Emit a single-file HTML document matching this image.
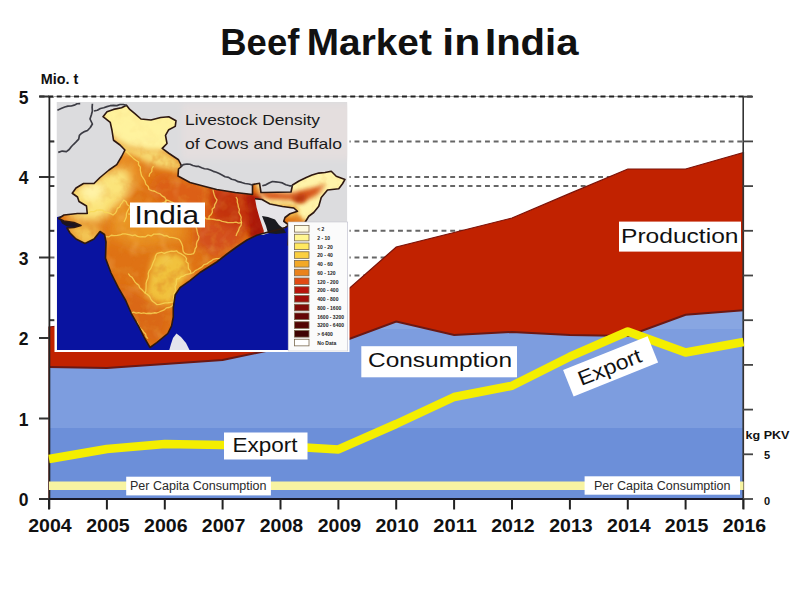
<!DOCTYPE html>
<html><head><meta charset="utf-8"><style>
html,body{margin:0;padding:0;background:#fff;width:800px;height:600px;overflow:hidden}
svg{display:block}
</style></head><body>
<svg width="800" height="600" viewBox="0 0 800 600">
<line x1="50" y1="141.4" x2="743" y2="141.4" stroke="#666" stroke-width="2" stroke-dasharray="4.9 3.8"/>
<line x1="50" y1="177.0" x2="743" y2="177.0" stroke="#666" stroke-width="2" stroke-dasharray="4.9 3.8"/>
<line x1="50" y1="186.1" x2="743" y2="186.1" stroke="#666" stroke-width="2" stroke-dasharray="4.9 3.8"/>
<line x1="50" y1="230.8" x2="743" y2="230.8" stroke="#666" stroke-width="2" stroke-dasharray="4.9 3.8"/>
<line x1="50" y1="257.5" x2="743" y2="257.5" stroke="#666" stroke-width="2" stroke-dasharray="4.9 3.8"/>
<line x1="50" y1="275.5" x2="743" y2="275.5" stroke="#666" stroke-width="2" stroke-dasharray="4.9 3.8"/>
<line x1="50" y1="320.2" x2="743" y2="320.2" stroke="#666" stroke-width="2" stroke-dasharray="4.9 3.8"/>
<line x1="50" y1="338.0" x2="743" y2="338.0" stroke="#666" stroke-width="2" stroke-dasharray="4.9 3.8"/>
<line x1="50" y1="364.9" x2="743" y2="364.9" stroke="#666" stroke-width="2" stroke-dasharray="4.9 3.8"/>
<line x1="50" y1="409.6" x2="743" y2="409.6" stroke="#666" stroke-width="2" stroke-dasharray="4.9 3.8"/>
<line x1="50" y1="418.5" x2="743" y2="418.5" stroke="#666" stroke-width="2" stroke-dasharray="4.9 3.8"/>
<line x1="50" y1="454.3" x2="743" y2="454.3" stroke="#666" stroke-width="2" stroke-dasharray="4.9 3.8"/>
<line x1="49" y1="454.3" x2="54" y2="454.3" stroke="#333" stroke-width="1.6"/>
<line x1="49" y1="409.6" x2="54" y2="409.6" stroke="#333" stroke-width="1.6"/>
<line x1="49" y1="364.9" x2="54" y2="364.9" stroke="#333" stroke-width="1.6"/>
<line x1="49" y1="320.2" x2="54" y2="320.2" stroke="#333" stroke-width="1.6"/>
<line x1="49" y1="275.5" x2="54" y2="275.5" stroke="#333" stroke-width="1.6"/>
<line x1="49" y1="230.8" x2="54" y2="230.8" stroke="#333" stroke-width="1.6"/>
<line x1="49" y1="186.1" x2="54" y2="186.1" stroke="#333" stroke-width="1.6"/>
<line x1="49" y1="141.4" x2="54" y2="141.4" stroke="#333" stroke-width="1.6"/>
<line x1="49" y1="96.7" x2="54" y2="96.7" stroke="#333" stroke-width="1.6"/>
<polygon points="49.0,327.0 106.9,320.0 164.8,314.0 222.6,308.0 280.5,303.0 338.4,298.0 396.2,247.0 454.1,232.5 512.0,218.0 569.9,193.4 627.8,169.0 685.6,169.0 743.5,152.5 743.5,499 49.0,499" fill="#c12200" stroke="#7a1208" stroke-width="1.2"/>
<clipPath id="cc"><polygon points="49.0,367.0 106.9,368.0 164.8,364.0 222.6,360.0 280.5,348.0 338.4,343.0 396.2,321.5 454.1,335.0 512.0,332.0 569.9,335.0 627.8,336.0 685.6,314.7 743.5,310.2 743.5,499 49.0,499"/></clipPath>
<g clip-path="url(#cc)">
<rect x="49" y="280" width="696" height="50" fill="#88a6e2"/>
<rect x="49" y="329" width="696" height="100" fill="#7d9ddf"/>
<rect x="49" y="428" width="696" height="72" fill="#6c8fd9"/>
</g>
<polyline points="49.0,367.0 106.9,368.0 164.8,364.0 222.6,360.0 280.5,348.0 338.4,343.0 396.2,321.5 454.1,335.0 512.0,332.0 569.9,335.0 627.8,336.0 685.6,314.7 743.5,310.2" fill="none" stroke="#6a1814" stroke-width="2"/>
<line x1="49.4" y1="96" x2="49.4" y2="509" stroke="#222" stroke-width="1.8"/>
<line x1="743.2" y1="96" x2="743.2" y2="509" stroke="#333" stroke-width="1.6"/>
<line x1="39" y1="96.5" x2="753" y2="96.5" stroke="#aaa" stroke-width="1"/>
<line x1="39.5" y1="96.5" x2="753" y2="96.5" stroke="#222" stroke-width="2.2" stroke-dasharray="5 3.63"/>
<line x1="49" y1="499" x2="744" y2="499" stroke="#1a1a2a" stroke-width="2.2"/>
<line x1="39" y1="499.0" x2="49" y2="499.0" stroke="#333" stroke-width="2"/>
<line x1="39" y1="418.5" x2="49" y2="418.5" stroke="#333" stroke-width="2"/>
<line x1="39" y1="338.0" x2="49" y2="338.0" stroke="#333" stroke-width="2"/>
<line x1="39" y1="257.5" x2="49" y2="257.5" stroke="#333" stroke-width="2"/>
<line x1="39" y1="177.0" x2="49" y2="177.0" stroke="#333" stroke-width="2"/>
<line x1="39" y1="96.5" x2="49" y2="96.5" stroke="#333" stroke-width="2"/>
<line x1="743" y1="454.3" x2="753" y2="454.3" stroke="#444" stroke-width="1.8"/>
<line x1="743" y1="409.6" x2="753" y2="409.6" stroke="#444" stroke-width="1.8"/>
<line x1="743" y1="364.9" x2="753" y2="364.9" stroke="#444" stroke-width="1.8"/>
<line x1="743" y1="320.2" x2="753" y2="320.2" stroke="#444" stroke-width="1.8"/>
<line x1="743" y1="275.5" x2="753" y2="275.5" stroke="#444" stroke-width="1.8"/>
<line x1="743" y1="230.8" x2="753" y2="230.8" stroke="#444" stroke-width="1.8"/>
<line x1="743" y1="186.1" x2="753" y2="186.1" stroke="#444" stroke-width="1.8"/>
<line x1="743" y1="141.4" x2="753" y2="141.4" stroke="#444" stroke-width="1.8"/>
<line x1="743" y1="96.7" x2="753" y2="96.7" stroke="#444" stroke-width="1.8"/>
<line x1="743" y1="499" x2="753" y2="499" stroke="#444" stroke-width="1.8"/>
<line x1="49.0" y1="499" x2="49.0" y2="509.5" stroke="#222" stroke-width="2"/>
<line x1="106.9" y1="499" x2="106.9" y2="509.5" stroke="#222" stroke-width="2"/>
<line x1="164.8" y1="499" x2="164.8" y2="509.5" stroke="#222" stroke-width="2"/>
<line x1="222.6" y1="499" x2="222.6" y2="509.5" stroke="#222" stroke-width="2"/>
<line x1="280.5" y1="499" x2="280.5" y2="509.5" stroke="#222" stroke-width="2"/>
<line x1="338.4" y1="499" x2="338.4" y2="509.5" stroke="#222" stroke-width="2"/>
<line x1="396.2" y1="499" x2="396.2" y2="509.5" stroke="#222" stroke-width="2"/>
<line x1="454.1" y1="499" x2="454.1" y2="509.5" stroke="#222" stroke-width="2"/>
<line x1="512.0" y1="499" x2="512.0" y2="509.5" stroke="#222" stroke-width="2"/>
<line x1="569.9" y1="499" x2="569.9" y2="509.5" stroke="#222" stroke-width="2"/>
<line x1="627.8" y1="499" x2="627.8" y2="509.5" stroke="#222" stroke-width="2"/>
<line x1="685.6" y1="499" x2="685.6" y2="509.5" stroke="#222" stroke-width="2"/>
<line x1="743.5" y1="499" x2="743.5" y2="509.5" stroke="#222" stroke-width="2"/>
<defs>
<clipPath id="mapclip"><rect x="56.5" y="102" width="290.8" height="248"/></clipPath>
<clipPath id="indclip"><polygon points="103,116.7 107,111.8 113.5,109.4 121.6,107.75 126.5,105.3 129.75,109.4 134.6,113.4 141,119 151,120 160.6,117.5 168.75,116.7 176,120.75 175.25,126.4 168.75,129.7 165.5,135.4 167,143.5 162.25,148.4 168.75,153.25 178.5,159.75 181.75,166.25 178.5,169 178,176 190,182.5 205,186.5 216.7,189.5 235.3,192.5 252.5,194.5 252.5,184.6 259.5,183.2 261,192.5 263.75,192.5 291,192 292.5,185 299,181 306.25,177.5 312,175 318.75,173.1 325,172.5 331.25,171.25 336.25,176.25 345,179.4 342.5,183.75 338.75,188.75 327.5,190 321.25,197.5 318.75,206.25 313.75,212.5 308.75,216.25 305,222.5 300,245 288,245 289.6,224.6 285.3,227.5 275.25,230.4 263.75,233.25 256.7,235.3 247,240 238,246 227,254 216.7,262 200,272.5 190,280.7 180,287.7 175.2,295 173.3,307.8 173.3,317 171.5,326.2 167.8,333.5 156.8,342.7 150,347.5 144,337.2 138.5,326.2 131.2,313.3 125.7,300.5 118.3,287.7 111,273 105.5,258.3 106,242 104.5,234.5 100,231.5 94,239 85,243.5 76,239 70,233 67,228 74,227.5 81,225.5 74,222.5 64,221 58.5,218.5 64,215 77.5,213.5 87.25,213.5 86.5,206 79,201.5 77.5,197 72.25,193.25 76,188 83.5,183.5 94,183.5 100,177.5 109,170 116.75,164.6 121.6,156.5 124.9,150 120,145 113.5,140.25 112,130.5 110.25,122.4"/></clipPath>
<filter id="bl2" x="-50%" y="-50%" width="200%" height="200%"><feGaussianBlur stdDeviation="2"/></filter>
<filter id="bl3" x="-50%" y="-50%" width="200%" height="200%"><feGaussianBlur stdDeviation="3"/></filter>
<filter id="bl4" x="-50%" y="-50%" width="200%" height="200%"><feGaussianBlur stdDeviation="4"/></filter>
<filter id="bl5" x="-50%" y="-50%" width="200%" height="200%"><feGaussianBlur stdDeviation="5"/></filter>
<filter id="bl6" x="-50%" y="-50%" width="200%" height="200%"><feGaussianBlur stdDeviation="6"/></filter>
<filter id="tex" x="0" y="0" width="100%" height="100%"><feTurbulence type="fractalNoise" baseFrequency="0.09" numOctaves="3" seed="7" result="n"/><feColorMatrix in="n" type="matrix" values="0 0 0 0 0.75  0 0 0 0 0.25  0 0 0 0 0.02  0 0 0 2.2 -1.0" result="c"/><feComposite in="c" in2="SourceGraphic" operator="in"/></filter>
<filter id="tex2" x="0" y="0" width="100%" height="100%"><feTurbulence type="fractalNoise" baseFrequency="0.07" numOctaves="2" seed="3" result="n"/><feColorMatrix in="n" type="matrix" values="0 0 0 0 1  0 0 0 0 0.85  0 0 0 0 0.4  0 0 0 2.0 -1.05" result="c"/><feComposite in="c" in2="SourceGraphic" operator="in"/></filter>
<mask id="texmask" maskUnits="userSpaceOnUse" x="50" y="95" width="310" height="270"><rect x="50" y="95" width="310" height="270" fill="#fff"/><polygon points="98,100 185,100 183,146 160,152 128,148 112,138" fill="#333" filter="url(#bl4)"/><polygon points="66,192 92,180 115,170 126,178 122,205 100,220 70,218" fill="#444" filter="url(#bl5)"/><polygon points="258,180 350,168 345,200 312,224 300,206 262,204" fill="#555" filter="url(#bl3)"/></mask>
</defs>
<rect x="54.5" y="101" width="295" height="251" fill="#fff"/>
<g clip-path="url(#mapclip)">
<rect x="56.5" y="102" width="290.8" height="248" fill="#dcdcde"/>
<rect x="182" y="104" width="170" height="55" fill="#e4dede" filter="url(#bl3)"/>
<polygon points="57,217 64,215.5 90,215 200,232 263,235 275,231 285,228 290,224 350,222 350,352 57,352" fill="#0913a0"/>
<g clip-path="url(#indclip)">
<rect x="56" y="100" width="300" height="260" fill="#df7214"/>
<polygon points="98,100 185,100 184,146 172,152 150,152 128,147 112,138 103,125" fill="#fff29c" filter="url(#bl3)"/>
<polygon points="114,138 132,148 160,150 178,160 184,172 160,168 138,160 122,156" fill="#f7d870" filter="url(#bl3)"/>
<polygon points="118,150 138,158 146,180 138,190 122,175" fill="#e98c22" filter="url(#bl3)"/>
<polygon points="64,192 92,180 112,168 128,168 132,185 120,208 100,222 70,220" fill="#fbe47a" filter="url(#bl5)"/>
<polygon points="80,186 98,182 106,192 94,202 82,198" fill="#fff3a8" filter="url(#bl4)"/>
<polygon points="66,224 98,226 104,246 78,246" fill="#f3c452" filter="url(#bl4)"/>
<polygon points="160,175 192,182 232,192 236,214 200,220 165,206 150,190" fill="#dc5e16" filter="url(#bl5)"/>
<polygon points="210,188 252,193 258,224 236,236 214,222" fill="#c43410" filter="url(#bl4)"/>
<polygon points="246,194 262,197 265,236 250,238 248,215" fill="#a81606" filter="url(#bl2)"/>
<polygon points="196,220 246,222 238,246 214,258 196,245" fill="#d4501a" filter="url(#bl5)"/>
<polygon points="116,204 180,212 186,240 140,248 108,236" fill="#ea9424" filter="url(#bl6)"/>
<polygon points="155,254.7 173.3,251 185,258 190,272 177,291 173.3,304 158.7,306 144,298.7 147.7,285.8 151.3,263.8" fill="#f1c23c" filter="url(#bl3)"/>
<polygon points="118,282 146,298 170,312 160,345 140,338 122,305" fill="#da6812" filter="url(#bl5)"/>
<polygon points="255,178 352,166 346,200 312,226 296,214 262,206" fill="#fff4aa" filter="url(#bl2)"/>
<polygon points="256,191 290,193 312,188 326,184 318,194 302,203 290,200 268,199" fill="#d8561a" filter="url(#bl2)"/>
<polygon points="292,196 306,194 304,202 296,203" fill="#b8380e" filter="url(#bl2)"/>
<polygon points="268,204 294,205 300,212 290,218 272,209" fill="#f2b848" filter="url(#bl2)"/>
<rect x="56" y="100" width="300" height="260" fill="#fff" filter="url(#tex)" opacity="0.6" mask="url(#texmask)"/>
<rect x="56" y="100" width="300" height="260" fill="#fff" filter="url(#tex2)" opacity="0.22"/>
<polygon points="104,117 126,106 141,119 168,117 176,121 166,136 167,144 150,146 128,144 113,136" fill="#fff3a0" opacity="0.5" filter="url(#bl3)"/>
<polygon points="246,195 262,197 265,236 251,238 249,215" fill="#a81808" opacity="0.8" filter="url(#bl2)"/>
<polygon points="214,190 250,194 254,222 236,232 216,220" fill="#c23210" opacity="0.5" filter="url(#bl4)"/>
<polyline points="125.9,151 127.89,152.98 129.88,154.96 131.94,156.86 133.9,158.87 136.23,160.46 138.6,162.0 138.48,164.76 140.41,167.1 140.27,169.86 140.75,172.5 141.53,175.65 143.37,178.27 145.0,181.0 145.75,184.11 148.23,186.4 149.0,189.5 151.77,190.52 154.65,191.25 157.22,192.75 160.0,193.75 162.0,195.92 164.72,197.37 166.25,200.0 165.61,202.85 164.45,205.5 162.44,207.82 162.0,210.75" fill="none" stroke="#f8d858" stroke-width="1.3" stroke-opacity="0.8" stroke-linejoin="round"/>
<polyline points="153.5,166 151.98,168.52 151.75,171.59 149.69,173.88 149.0,176.75" fill="none" stroke="#f8d858" stroke-width="1.3" stroke-opacity="0.8" stroke-linejoin="round"/>
<polyline points="88,213 90.86,211.69 94.05,211.68 96.86,210.17 100.0,210.0 102.89,210.26 104.99,212.55 107.97,212.57 110.56,213.58 113.0,215.0 115.16,213.31 116.56,211.06 117.33,208.38 119.74,206.86 120.73,204.32 122.45,202.31 123.75,200.0 126.17,201.84 127.41,204.82 130.0,206.5 128.72,208.97 127.3,211.4 126.41,214.02 126.3,216.95 125.21,219.5 124.0,222.0" fill="none" stroke="#f8d858" stroke-width="1.3" stroke-opacity="0.8" stroke-linejoin="round"/>
<polyline points="166.25,200 168.85,200.72 171.23,201.88 173.65,202.96 175.84,204.49 177.98,206.12 180.78,206.46 182.65,208.62 185.26,209.32 187.5,210.75 189.97,211.38 192.04,213.06 194.59,213.47 197.05,214.14 199.32,215.31 201.55,216.56 204.28,216.51 206.11,218.79 208.75,219.0 209.08,216.32 211.18,214.41 212.35,212.09 212.17,209.19 214.33,207.31 214.74,204.66 216.08,202.43 217.0,200.0 215.27,197.65 214.32,195.01 213.52,192.31 213.0,189.5" fill="none" stroke="#f8d858" stroke-width="1.3" stroke-opacity="0.8" stroke-linejoin="round"/>
<polyline points="105.7,236.7 108.66,236.93 111.29,235.25 114.27,235.65 117.15,235.44 119.99,234.98 122.7,233.8 125.21,233.92 127.68,234.3 130.12,234.93 132.54,235.69 135.17,234.99 137.49,236.37 139.96,236.81 142.5,236.7 145.43,236.78 148.04,235.0 151.12,235.95 153.72,234.12 156.62,234.03 159.5,233.8 161.93,234.68 164.26,235.87 167.0,235.69 169.21,237.3 171.86,237.43 174.43,237.79 176.91,238.51 179.3,239.5 180.73,241.67 181.83,243.98 182.67,246.39 182.82,249.08 183.31,251.63 185.0,253.7" fill="none" stroke="#f8d858" stroke-width="1.3" stroke-opacity="0.8" stroke-linejoin="round"/>
<polyline points="156.7,253.7 159.1,252.8 161.55,252.26 164.24,253.38 166.61,252.3 169.05,251.74 171.49,251.11 174.05,251.31 176.5,250.8 178.33,252.66 180.79,253.59 182.94,254.97 185.0,256.5 186.49,258.7 186.0,261.57 188.15,263.55 188.27,266.21 188.56,268.81 190.45,270.88 190.7,273.5 188.2,274.07 185.71,274.66 183.52,276.06 181.07,276.74 179.09,278.67 176.5,279.0 176.29,281.55 176.43,284.14 175.02,286.53 175.58,289.17 175.02,291.68 173.84,294.1 173.76,296.66 173.26,299.17 173.7,301.8 170.88,302.34 168.04,302.75 165.14,302.84 162.37,303.7 159.59,304.46 156.7,304.6 154.69,302.83 152.5,301.24 150.86,299.09 149.65,296.51 147.72,294.66 145.3,293.3 145.86,290.85 146.02,288.35 146.13,285.84 146.1,283.3 146.75,280.87 147.92,278.52 148.42,276.06 148.2,273.5 149.06,270.94 150.75,268.73 151.79,266.25 152.74,263.72 153.75,261.23 154.96,258.81 155.44,256.09 156.7,253.7" fill="none" stroke="#f8d858" stroke-width="1.3" stroke-opacity="0.8" stroke-linejoin="round"/>
<polyline points="128.3,273.5 129.75,275.69 131.97,277.23 133.42,279.43 134.77,281.7 136.57,283.6 138.75,285.17 139.66,287.82 141.72,289.5 143.5,291.4 145.3,293.3" fill="none" stroke="#f8d858" stroke-width="1.3" stroke-opacity="0.8" stroke-linejoin="round"/>
<polyline points="131,313 133.57,312.22 136.14,313.08 138.71,312.6 141.28,313.27 143.85,312.94 146.42,313.51 148.99,313.24 151.56,313.48 154.13,312.76 156.7,313.0 159.23,312.01 161.73,310.94 164.22,309.87 166.31,307.98 169.09,307.49 171.53,306.33 173.7,304.6" fill="none" stroke="#f8d858" stroke-width="1.3" stroke-opacity="0.8" stroke-linejoin="round"/>
<polyline points="136.8,321.6 137.95,323.89 138.96,326.27 140.39,328.38 142.38,330.12 143.76,332.25 145.65,334.06 146.15,336.77 148.0,338.6" fill="none" stroke="#f8d858" stroke-width="1.3" stroke-opacity="0.8" stroke-linejoin="round"/>
<polyline points="190.7,273.5 193.33,272.67 195.2,270.63 197.64,269.5 199.93,268.12 202.2,266.71 203.98,264.54 206.76,263.94 208.85,262.25 211.18,260.94 213.3,259.3 216.12,258.62 219.02,258.37 221.91,258.05 224.7,257.27 227.5,256.5" fill="none" stroke="#f8d858" stroke-width="1.3" stroke-opacity="0.8" stroke-linejoin="round"/>
<polyline points="193.5,222.5 194.09,224.99 196.04,226.96 196.76,229.4 197.25,231.93 197.86,234.42 199.0,236.7 198.64,239.27 197.15,241.47 196.44,243.92 196.55,246.64 195.11,248.86 194.7,251.41 193.5,253.7 190.67,254.41 187.83,254.29 185.0,253.7" fill="none" stroke="#f8d858" stroke-width="1.3" stroke-opacity="0.8" stroke-linejoin="round"/>
<polyline points="208.75,219 211.48,219.21 214.2,219.5 216.88,220.02 219.6,220.27 222.15,221.45 224.86,221.81 227.5,222.5 230.32,222.68 233.14,222.64 235.96,222.08 238.78,223.15 241.6,222.5" fill="none" stroke="#f8d858" stroke-width="1.3" stroke-opacity="0.8" stroke-linejoin="round"/>
<polyline points="236,197 237.34,199.38 237.27,202.07 238.03,204.57 238.38,207.17 239.4,209.62 238.84,212.41 240.12,214.81 241.21,217.24 240.86,219.99 241.6,222.5 241.08,225.45 239.29,227.87 238.48,230.7 237.0,233.25 236.0,236.0" fill="none" stroke="#f8d858" stroke-width="1.3" stroke-opacity="0.8" stroke-linejoin="round"/>
<polyline points="128.3,214 131.03,214.2 133.56,213.46 136.02,212.32 138.73,212.42 141.25,211.63 143.75,210.69 146.26,209.81 148.98,210.01 151.56,209.44 154.26,209.54 156.7,208.3 159.1,207.21 160.63,205.11 162.27,203.14 164.75,202.14 166.25,200.0" fill="none" stroke="#f8d858" stroke-width="1.3" stroke-opacity="0.8" stroke-linejoin="round"/>
</g>
<polygon points="255,198.75 262,199.5 270,204 282.5,206.5 293.75,208 297.5,211.25 290,213.75 285,217.5 283.75,221.25 288.2,224.6 285.3,227.5 275.25,230.4 263.75,233.25 263.75,230.4 259.4,217.4 256.6,207.4" fill="#e6e4e8"/>
<polyline points="255,198.75 262,199.5 270,204 282.5,206.5 293.75,208 297.5,211.25 290,213.75 285,217.5 283.75,221.25 288.2,224.6" fill="none" stroke="#2e1810" stroke-width="1.6" stroke-linejoin="round"/>
<polygon points="262,216 268,217 275,219.5 279,225 284,229 286,233 276,234 268,233 266,226" fill="#1a1a20"/>
<polygon points="176.5,333.5 181,337 186,343 190,351 169,351 171,344 173,338" fill="#e4e4ec"/>
<polygon points="60,219.5 66,221.8 74,223 80.5,225.5 74,227 67,226.5 62,223.5" fill="#1c1420"/>
<polygon points="103,116.7 107,111.8 113.5,109.4 121.6,107.75 126.5,105.3 129.75,109.4 134.6,113.4 141,119 151,120 160.6,117.5 168.75,116.7 176,120.75 175.25,126.4 168.75,129.7 165.5,135.4 167,143.5 162.25,148.4 168.75,153.25 178.5,159.75 181.75,166.25 178.5,169 178,176 190,182.5 205,186.5 216.7,189.5 235.3,192.5 252.5,194.5 252.5,184.6 259.5,183.2 261,192.5 263.75,192.5 291,192 292.5,185 299,181 306.25,177.5 312,175 318.75,173.1 325,172.5 331.25,171.25 336.25,176.25 345,179.4 342.5,183.75 338.75,188.75 327.5,190 321.25,197.5 318.75,206.25 313.75,212.5 308.75,216.25 305,222.5 300,245 288,245 289.6,224.6 285.3,227.5 275.25,230.4 263.75,233.25 256.7,235.3 247,240 238,246 227,254 216.7,262 200,272.5 190,280.7 180,287.7 175.2,295 173.3,307.8 173.3,317 171.5,326.2 167.8,333.5 156.8,342.7 150,347.5 144,337.2 138.5,326.2 131.2,313.3 125.7,300.5 118.3,287.7 111,273 105.5,258.3 106,242 104.5,234.5 100,231.5 94,239 85,243.5 76,239 70,233 67,228 74,227.5 81,225.5 74,222.5 64,221 58.5,218.5 64,215 77.5,213.5 87.25,213.5 86.5,206 79,201.5 77.5,197 72.25,193.25 76,188 83.5,183.5 94,183.5 100,177.5 109,170 116.75,164.6 121.6,156.5 124.9,150 120,145 113.5,140.25 112,130.5 110.25,122.4" fill="none" stroke="#2e1810" stroke-width="1.6" stroke-linejoin="round"/>
<polyline points="180,166.5 183.3,164.69 187.0,164.0 190.04,164.26 192.84,165.51 195.75,166.28 198.82,166.44 201.61,167.72 204.46,168.74 207.5,169.0 210.46,170.06 213.33,171.32 216.33,172.3 219.2,173.57 222.0,175.0 225.05,176.78 228.55,177.37 231.55,179.27 235.0,180.0 238.17,181.64 241.63,182.44 245.0,183.5 248.81,183.97 252.5,185.0" fill="none" stroke="#3c3c44" stroke-width="1.7" stroke-linejoin="round"/>
<polyline points="262.3,185.8 265.86,184.81 269.03,182.93 272.4,181.5 275.75,181.88 279.09,182.25 282.4,182.9 285.82,184.8 289.6,185.8 292.5,185.8" fill="none" stroke="#3c3c44" stroke-width="1.7" stroke-linejoin="round"/>
<polyline points="57.4,110.2 61.07,108.58 64.75,107.0 67.94,106.08 71.25,106.0 74.22,105.19 77.03,103.73 80.2,103.7" fill="none" stroke="#3c3c44" stroke-width="1.7" stroke-linejoin="round"/>
<polyline points="92.4,103.7 92.13,107.35 92.4,111.0 91.32,115.04 90.0,119.0 92.4,124.0 90.31,127.52 87.5,130.5 84.48,131.6 81.73,133.15 79.4,135.4 78.7,139.13 76.1,141.9 73.62,144.27 71.25,146.75 69.18,149.53 66.4,151.6 62.23,151.05 58.25,152.4" fill="none" stroke="#3c3c44" stroke-width="1.7" stroke-linejoin="round"/>
<polyline points="94,111 97.36,110.24 100.4,108.54 103.75,107.75 106.93,106.66 110.15,105.71 113.5,105.3 116.8,105.62 119.98,104.52 123.25,104.5 126.5,105.3" fill="none" stroke="#3c3c44" stroke-width="1.7" stroke-linejoin="round"/>
</g>
<rect x="288.2" y="222" width="59.5" height="129" fill="#fbfbfb" stroke="#c8c8d0" stroke-width="0.6"/>
<rect x="294.5" y="225.50" width="14.5" height="6.6" fill="#fffbe0" stroke="#7a6a50" stroke-width="0.8"/>
<text x="317.3" y="231.00" font-family="Liberation Sans, sans-serif" font-weight="bold" font-size="5" fill="#222">&lt; 2</text>
<rect x="294.5" y="234.25" width="14.5" height="6.6" fill="#fff690" stroke="#7a6a50" stroke-width="0.8"/>
<text x="317.3" y="239.75" font-family="Liberation Sans, sans-serif" font-weight="bold" font-size="5" fill="#222">2 - 10</text>
<rect x="294.5" y="243.00" width="14.5" height="6.6" fill="#ffe860" stroke="#7a6a50" stroke-width="0.8"/>
<text x="317.3" y="248.50" font-family="Liberation Sans, sans-serif" font-weight="bold" font-size="5" fill="#222">10 - 20</text>
<rect x="294.5" y="251.75" width="14.5" height="6.6" fill="#fbcf40" stroke="#7a6a50" stroke-width="0.8"/>
<text x="317.3" y="257.25" font-family="Liberation Sans, sans-serif" font-weight="bold" font-size="5" fill="#222">20 - 40</text>
<rect x="294.5" y="260.50" width="14.5" height="6.6" fill="#f2a826" stroke="#7a6a50" stroke-width="0.8"/>
<text x="317.3" y="266.00" font-family="Liberation Sans, sans-serif" font-weight="bold" font-size="5" fill="#222">40 - 60</text>
<rect x="294.5" y="269.25" width="14.5" height="6.6" fill="#ea821c" stroke="#7a6a50" stroke-width="0.8"/>
<text x="317.3" y="274.75" font-family="Liberation Sans, sans-serif" font-weight="bold" font-size="5" fill="#222">60 - 120</text>
<rect x="294.5" y="278.00" width="14.5" height="6.6" fill="#e24a14" stroke="#7a6a50" stroke-width="0.8"/>
<text x="317.3" y="283.50" font-family="Liberation Sans, sans-serif" font-weight="bold" font-size="5" fill="#222">120 - 200</text>
<rect x="294.5" y="286.75" width="14.5" height="6.6" fill="#b8140c" stroke="#7a6a50" stroke-width="0.8"/>
<text x="317.3" y="292.25" font-family="Liberation Sans, sans-serif" font-weight="bold" font-size="5" fill="#222">200 - 400</text>
<rect x="294.5" y="295.50" width="14.5" height="6.6" fill="#a00e0a" stroke="#7a6a50" stroke-width="0.8"/>
<text x="317.3" y="301.00" font-family="Liberation Sans, sans-serif" font-weight="bold" font-size="5" fill="#222">400 - 800</text>
<rect x="294.5" y="304.25" width="14.5" height="6.6" fill="#820a08" stroke="#7a6a50" stroke-width="0.8"/>
<text x="317.3" y="309.75" font-family="Liberation Sans, sans-serif" font-weight="bold" font-size="5" fill="#222">800 - 1600</text>
<rect x="294.5" y="313.00" width="14.5" height="6.6" fill="#640606" stroke="#7a6a50" stroke-width="0.8"/>
<text x="317.3" y="318.50" font-family="Liberation Sans, sans-serif" font-weight="bold" font-size="5" fill="#222">1600 - 3200</text>
<rect x="294.5" y="321.75" width="14.5" height="6.6" fill="#520404" stroke="#7a6a50" stroke-width="0.8"/>
<text x="317.3" y="327.25" font-family="Liberation Sans, sans-serif" font-weight="bold" font-size="5" fill="#222">3200 - 6400</text>
<rect x="294.5" y="330.50" width="14.5" height="6.6" fill="#3e0202" stroke="#7a6a50" stroke-width="0.8"/>
<text x="317.3" y="336.00" font-family="Liberation Sans, sans-serif" font-weight="bold" font-size="5" fill="#222">&gt; 6400</text>
<rect x="294.5" y="339.25" width="14.5" height="6.6" fill="#ffffff" stroke="#7a6a50" stroke-width="0.8"/>
<text x="317.3" y="344.75" font-family="Liberation Sans, sans-serif" font-weight="bold" font-size="5" fill="#222">No Data</text>
<text x="185" y="125.2" font-family="Liberation Sans, sans-serif" font-size="14.5" textLength="135" lengthAdjust="spacingAndGlyphs" fill="#1a1a1a">Livestock Density</text>
<text x="185" y="148.6" font-family="Liberation Sans, sans-serif" font-size="14.5" textLength="157" lengthAdjust="spacingAndGlyphs" fill="#1a1a1a">of Cows and Buffalo</text>
<rect x="130" y="202.5" width="75" height="25" fill="#fff"/>
<text x="134.5" y="224.4" font-family="Liberation Sans, sans-serif" font-size="25.5" textLength="64.5" lengthAdjust="spacingAndGlyphs" fill="#111">India</text>
<polyline points="49.0,485.8 743.5,485.8" fill="none" stroke="#f7f3a2" stroke-width="8.5"/>
<polyline points="49.0,459.0 106.9,449.0 164.8,444.0 222.6,445.0 280.5,446.0 338.4,449.4 396.2,424.0 454.1,397.0 512.0,385.8 569.9,356.7 627.8,331.5 685.6,352.5 743.5,342.0" fill="none" stroke="#f4ee00" stroke-width="8.5" stroke-linejoin="round"/>
<rect x="361.3" y="346.2" width="155.7" height="31.1" fill="#fff"/>
<text x="368" y="367" font-family="Liberation Sans, sans-serif" font-size="20.5" textLength="144" lengthAdjust="spacingAndGlyphs" fill="#111">Consumption</text>
<rect x="619" y="221.6" width="122" height="30" fill="#fff"/>
<text x="621" y="243" font-family="Liberation Sans, sans-serif" font-size="21" textLength="117.5" lengthAdjust="spacingAndGlyphs" fill="#111">Production</text>
<rect x="224" y="432.5" width="83.5" height="27" fill="#fff"/>
<text x="232.5" y="452.3" font-family="Liberation Sans, sans-serif" font-size="20.5" textLength="65" lengthAdjust="spacingAndGlyphs" fill="#111">Export</text>
<g transform="translate(610.6 366.3) rotate(-21.8)">
<rect x="-45.5" y="-14.2" width="91" height="28.4" fill="#fff"/>
<text x="-34.5" y="7.5" font-family="Liberation Sans, sans-serif" font-size="20.5" textLength="66.5" lengthAdjust="spacingAndGlyphs" fill="#111">Export</text>
</g>
<rect x="126.2" y="476.7" width="144.7" height="18.7" fill="#fff"/>
<text x="130" y="489.8" font-family="Liberation Sans, sans-serif" font-size="12.3" textLength="136.5" lengthAdjust="spacingAndGlyphs" fill="#2a2a2a">Per Capita Consumption</text>
<rect x="584.6" y="476.3" width="155.4" height="18.4" fill="#fff"/>
<text x="594" y="489.8" font-family="Liberation Sans, sans-serif" font-size="12.3" textLength="136.5" lengthAdjust="spacingAndGlyphs" fill="#2a2a2a">Per Capita Consumption</text>
<text x="28.5" y="506.0" font-family="Liberation Sans, sans-serif" font-weight="bold" font-size="17.5" text-anchor="end" fill="#111">0</text>
<text x="28.5" y="425.5" font-family="Liberation Sans, sans-serif" font-weight="bold" font-size="17.5" text-anchor="end" fill="#111">1</text>
<text x="28.5" y="345.0" font-family="Liberation Sans, sans-serif" font-weight="bold" font-size="17.5" text-anchor="end" fill="#111">2</text>
<text x="28.5" y="264.5" font-family="Liberation Sans, sans-serif" font-weight="bold" font-size="17.5" text-anchor="end" fill="#111">3</text>
<text x="28.5" y="184.0" font-family="Liberation Sans, sans-serif" font-weight="bold" font-size="17.5" text-anchor="end" fill="#111">4</text>
<text x="28.5" y="103.5" font-family="Liberation Sans, sans-serif" font-weight="bold" font-size="17.5" text-anchor="end" fill="#111">5</text>
<text x="50.0" y="532" font-family="Liberation Sans, sans-serif" font-weight="bold" font-size="17.5" text-anchor="middle" textLength="43.5" lengthAdjust="spacingAndGlyphs" fill="#111">2004</text>
<text x="107.9" y="532" font-family="Liberation Sans, sans-serif" font-weight="bold" font-size="17.5" text-anchor="middle" textLength="43.5" lengthAdjust="spacingAndGlyphs" fill="#111">2005</text>
<text x="165.8" y="532" font-family="Liberation Sans, sans-serif" font-weight="bold" font-size="17.5" text-anchor="middle" textLength="43.5" lengthAdjust="spacingAndGlyphs" fill="#111">2006</text>
<text x="223.6" y="532" font-family="Liberation Sans, sans-serif" font-weight="bold" font-size="17.5" text-anchor="middle" textLength="43.5" lengthAdjust="spacingAndGlyphs" fill="#111">2007</text>
<text x="281.5" y="532" font-family="Liberation Sans, sans-serif" font-weight="bold" font-size="17.5" text-anchor="middle" textLength="43.5" lengthAdjust="spacingAndGlyphs" fill="#111">2008</text>
<text x="339.4" y="532" font-family="Liberation Sans, sans-serif" font-weight="bold" font-size="17.5" text-anchor="middle" textLength="43.5" lengthAdjust="spacingAndGlyphs" fill="#111">2009</text>
<text x="397.2" y="532" font-family="Liberation Sans, sans-serif" font-weight="bold" font-size="17.5" text-anchor="middle" textLength="43.5" lengthAdjust="spacingAndGlyphs" fill="#111">2010</text>
<text x="455.1" y="532" font-family="Liberation Sans, sans-serif" font-weight="bold" font-size="17.5" text-anchor="middle" textLength="43.5" lengthAdjust="spacingAndGlyphs" fill="#111">2011</text>
<text x="513.0" y="532" font-family="Liberation Sans, sans-serif" font-weight="bold" font-size="17.5" text-anchor="middle" textLength="43.5" lengthAdjust="spacingAndGlyphs" fill="#111">2012</text>
<text x="570.9" y="532" font-family="Liberation Sans, sans-serif" font-weight="bold" font-size="17.5" text-anchor="middle" textLength="43.5" lengthAdjust="spacingAndGlyphs" fill="#111">2013</text>
<text x="628.8" y="532" font-family="Liberation Sans, sans-serif" font-weight="bold" font-size="17.5" text-anchor="middle" textLength="43.5" lengthAdjust="spacingAndGlyphs" fill="#111">2014</text>
<text x="686.6" y="532" font-family="Liberation Sans, sans-serif" font-weight="bold" font-size="17.5" text-anchor="middle" textLength="43.5" lengthAdjust="spacingAndGlyphs" fill="#111">2015</text>
<text x="744.5" y="532" font-family="Liberation Sans, sans-serif" font-weight="bold" font-size="17.5" text-anchor="middle" textLength="43.5" lengthAdjust="spacingAndGlyphs" fill="#111">2016</text>
<text x="40.8" y="84.3" font-family="Liberation Sans, sans-serif" font-weight="bold" font-size="14.2" textLength="37.5" lengthAdjust="spacingAndGlyphs" fill="#111">Mio. t</text>
<text x="745.5" y="439.2" font-family="Liberation Sans, sans-serif" font-weight="bold" font-size="11.5" textLength="44" lengthAdjust="spacingAndGlyphs" fill="#111">kg PKV</text>
<text x="764" y="458.7" font-family="Liberation Sans, sans-serif" font-weight="bold" font-size="11" fill="#111">5</text>
<text x="764" y="504.7" font-family="Liberation Sans, sans-serif" font-weight="bold" font-size="11" fill="#111">0</text>
<text x="220.3" y="54.5" font-family="Liberation Sans, sans-serif" font-weight="bold" font-size="37" textLength="79.0" lengthAdjust="spacingAndGlyphs" fill="#111">Beef</text>
<text x="306.8" y="54.5" font-family="Liberation Sans, sans-serif" font-weight="bold" font-size="37" textLength="125.0" lengthAdjust="spacingAndGlyphs" fill="#111">Market</text>
<text x="442.3" y="54.5" font-family="Liberation Sans, sans-serif" font-weight="bold" font-size="37" textLength="38.0" lengthAdjust="spacingAndGlyphs" fill="#111">in</text>
<text x="485.0" y="54.5" font-family="Liberation Sans, sans-serif" font-weight="bold" font-size="37" textLength="93.5" lengthAdjust="spacingAndGlyphs" fill="#111">India</text>
</svg>
</body></html>
